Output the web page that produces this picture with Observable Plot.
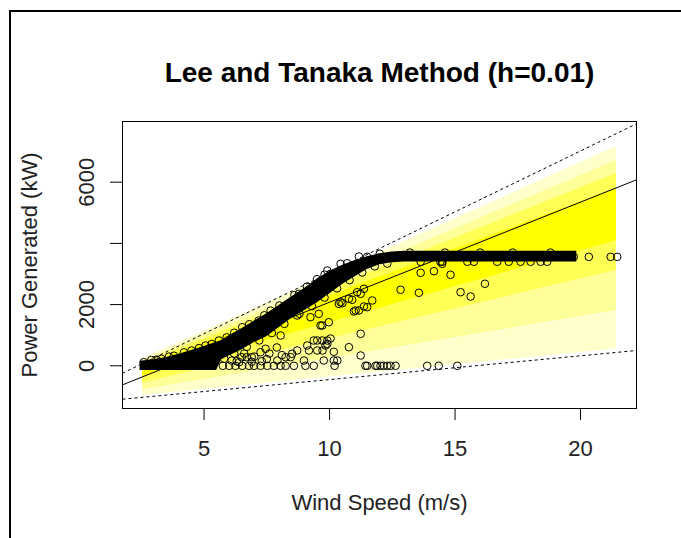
<!DOCTYPE html>
<html><head><meta charset="utf-8">
<script src="https://cdn.jsdelivr.net/npm/d3@7"></script>
<script src="https://cdn.jsdelivr.net/npm/@observablehq/plot@0.6"></script>
<style>
html,body{margin:0;padding:0;background:#fff;}
#wrap{position:relative;width:681px;height:538px;overflow:hidden;background:#fff;}
#border{position:absolute;left:9px;top:10px;right:-10px;bottom:-10px;border-top:2px solid #000;border-left:2px solid #000;pointer-events:none;}
</style></head><body>
<div id="wrap"><div id="chart"></div><div id="border"></div></div>
<script>
const title = "Lee and Tanaka Method (h=0.01)";
const xLabel = "Wind Speed (m/s)";
const yLabel = "Power Generated (kW)";
const xTicks = [5, 10, 15, 20];
const yTicks = [0, 2000, 4000, 6000];
const yTickLabels = ["0", "2000", "", "6000"];
const xDomain = [1.75, 22.23];
const yDomain = [-1395, 7983];

// nested yellow interval bands: edges at the start and end wind speed
const bandX = [2.55, 21.43];
const bandLoStart = [-970, -780, -560, -330];
const bandHiStart = [230, 150, 80, 0];
const bandLoEnd = [550, 1807, 3114, 4095];
const bandHiEnd = [7167, 6709, 6284, 5794];
const bandColors = ["#FFFFCC", "#FFFF99", "#FFFF55", "#FFFF00"];

// straight reference lines: values at the left and right edge of the plot
const lineLeft = [-242, -621, -1092];
const lineRight = [7908, 6078, 500];
const lineDash = ["3,3", "none", "3,3"];

// dense, overplotted part of the scatter: lower and upper edge per wind speed
const coreWind = [2.45, 3.0, 3.5, 4.0, 4.5, 5.0, 5.5, 5.7, 6.0, 6.5, 7.0, 7.5, 8.0, 8.5, 9.0, 9.5, 10.0, 10.5, 11.0, 11.5, 12.0, 12.5, 13.0, 14.0, 15.0, 16.0, 17.0, 18.0, 19.0, 19.85];
const coreLo = [-150, -150, -150, -150, -150, -150, -150, 200, 320, 520, 760, 950, 1250, 1550, 1800, 2050, 2350, 2650, 2900, 3150, 3300, 3370, 3390, 3395, 3395, 3395, 3395, 3395, 3395, 3395];
const coreHi = [150, 200, 270, 380, 500, 630, 770, 830, 980, 1210, 1460, 1700, 1980, 2260, 2530, 2830, 3080, 3280, 3430, 3560, 3660, 3720, 3740, 3745, 3745, 3745, 3745, 3745, 3745, 3745];

// individually visible points
const ptWind = [
  5.75, 6.0, 6.25, 6.52, 6.79, 6.99, 7.25, 7.52, 7.78, 8.05, 8.25, 8.58, 9.04, 9.37, 10.2, 11.43, 11.5, 11.83, 11.9, 12.03, 12.15, 12.3, 12.43, 12.63, 13.89, 14.35, 15.09,
  6.5, 6.7, 6.9,
  2.60, 3.1, 3.6, 4.2, 5.06, 5.59, 6.52, 7.18, 7.65, 8.38, 8.78, 9.91, 10.04, 10.44, 11.17,
  2.9, 3.3, 3.8, 4.5, 4.8, 5.3, 5.9, 6.2, 6.8, 7.4, 8.0, 8.6, 9.1, 9.5, 9.8, 10.7, 11.5, 12.0,
  5.8, 6.2, 6.7, 7.2, 7.7, 8.2, 8.8, 9.3, 9.8, 10.3, 10.8, 11.3, 11.8, 12.3,
  6.1, 6.3, 6.6, 7.0, 7.3, 7.6, 7.9, 8.1, 6.4, 6.9, 7.5,
  9.57, 10.37, 9.97, 9.51, 9.91, 9.11, 8.71, 8.45, 7.92, 9.51, 9.77, 10.31, 8.05, 7.45, 7.25, 9.64, 9.37, 9.71, 9.91, 10.17, 8.25, 8.51, 8.98, 9.18, 8.71, 9.24, 10.44, 10.77, 11.04, 11.10, 11.50, 11.70, 11.24, 10.77, 11.24, 10.90, 10.51, 11.24, 11.37, 11.17, 10.97, 11.37, 9.71, 10.17, 9.84, 10.04, 9.72,
  12.83, 13.56, 13.63, 14.16, 14.49, 14.82, 15.22, 15.62, 16.19,
  13.63, 14.42, 14.49, 15.49, 15.75, 16.68, 17.14, 17.61, 18.01, 18.41, 18.67,
  19.55, 19.73, 20.33, 21.2, 21.46,
  13.2, 14.6, 16.0, 17.3, 18.8
];
const ptPower = [
  0, 0, 0, 0, 0, 0, 0, 0, 0, 0, 0, 0, 0, 0, 0, 0, 0, 0, 0, 0, 0, 0, 0, 0, 0, 0, 0,
  280, 280, 280,
  118, 200, 300, 440, 663, 827, 1261, 1480, 1804, 2026, 2353, 3114, 3007, 3333, 3572,
  190, 230, 330, 500, 580, 710, 930, 1080, 1360, 1650, 1970, 2310, 2590, 2830, 2980, 3350, 3560, 3660,
  230, 400, 620, 830, 1070, 1370, 1700, 1950, 2230, 2530, 2800, 3050, 3250, 3340,
  170, 150, 400, 300, 150, 400, 600, 350, 120, 130, 220,
  1699, 2026, 1425, 827, 827, 663, 500, 281, 173, 500, 173, 173, 990, 556, 444, 1317, 827, 827, 719, 173, 281, 392, 173, 500, 1644, 1588, 2078, 2190, 1807, 2405, 1915, 2134, 1046, 608, 337, 2157, 2046, 2353, 2516, 1807, 1775, 1938, 1317, 458, 663, 892, 500,
  2484, 2386, 3039, 3092, 3333, 2974, 2405, 2265, 2680,
  3400, 3400, 3400, 3400, 3400, 3400, 3400, 3400, 3400, 3400, 3400,
  3560, 3560, 3560, 3560, 3560,
  3700, 3700, 3700, 3700, 3700
];

const bandMarks = bandColors.map((c, i) => Plot.areaY(
  [{x: bandX[0], lo: bandLoStart[i], hi: bandHiStart[i]}, {x: bandX[1], lo: bandLoEnd[i], hi: bandHiEnd[i]}],
  {x: "x", y1: "lo", y2: "hi", fill: c}
));
const lines = lineLeft.map((v, i) => ({x1: xDomain[0], y1: v, x2: xDomain[1], y2: lineRight[i], dash: lineDash[i]}));
const core = coreWind.map((w, i) => ({w, lo: coreLo[i], hi: coreHi[i]}));
const pts = ptWind.map((w, i) => ({w, p: ptPower[i]}));

const font = "'Liberation Sans', Arial, sans-serif";
const chart = Plot.plot({
  width: 681, height: 538,
  marginLeft: 122, marginRight: 45, marginTop: 121, marginBottom: 130,
  x: {domain: xDomain, label: null},
  y: {domain: yDomain, label: null},
  style: {fontFamily: font, fontSize: "22px", color: "#000", background: "transparent", overflow: "visible"},
  marks: [
    ...bandMarks,
    ...lines.map(l => Plot.link([l], {x1: "x1", y1: "y1", x2: "x2", y2: "y2", stroke: "#000", strokeWidth: 1, strokeDasharray: l.dash})),
    Plot.areaY(core, {x: "w", y1: "lo", y2: "hi", fill: "#000"}),
    Plot.dot(pts, {x: "w", y: "p", r: 3.8, stroke: "#000", strokeWidth: 1, fill: "none"}),
    Plot.frame({stroke: "#000", strokeWidth: 1}),
    Plot.axisX(xTicks, {tickSize: 12, tickPadding: 20, label: null, fontSize: 22, fill: "#222"}),
    Plot.axisY(yTicks, {tickSize: 12, tickRotate: -90, tickPadding: 17, label: null, fontSize: 22, fill: "#222",
      tickFormat: d => yTickLabels[yTicks.indexOf(d)]}),
    Plot.text([title], {frameAnchor: "top", dy: -40, lineAnchor: "bottom", fontSize: 28, fontWeight: "bold", fill: "#000"}),
    Plot.text([xLabel], {frameAnchor: "bottom", dy: 101, lineAnchor: "bottom", fontSize: 22, fill: "#222"}),
    Plot.text([yLabel], {frameAnchor: "left", dx: -86, rotate: -90, textAnchor: "middle", lineAnchor: "bottom", fontSize: 22, fill: "#222"})
  ]
});
document.getElementById("chart").appendChild(chart);
</script>
</body></html>
